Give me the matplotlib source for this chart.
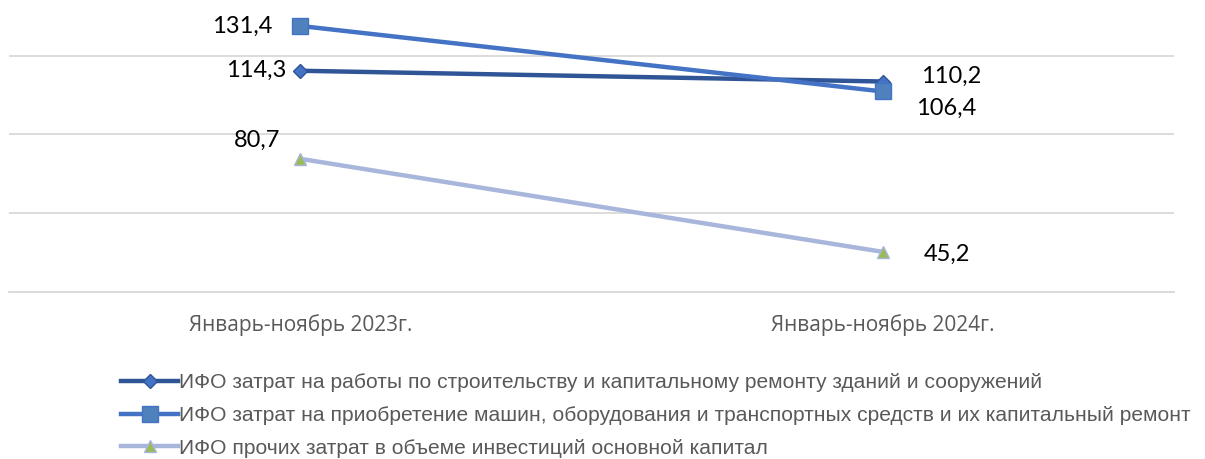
import matplotlib.pyplot as plt
import numpy as np

periods = ['Январь-ноябрь 2023г.', 'Январь-ноябрь 2024г.']
series_names = [
    'ИФО затрат на работы по строительству и капитальному ремонту зданий и сооружений',
    'ИФО затрат на приобретение машин, оборудования и транспортных средств и их капитальный ремонт',
    'ИФО прочих затрат в объеме инвестиций основной капитал',
]
buildings = [114.3, 110.2]
machines = [131.4, 106.4]
other = [80.7, 45.2]

x = np.arange(len(periods))

fig = plt.figure(figsize=(12.05, 4.59), dpi=100)
ax = fig.add_axes([9 / 1205, 1 - 291.7 / 459, (1174 - 9) / 1205, 291.7 / 459])

ax.plot(x, buildings, color='#2f5597', lw=3.2, marker='D', ms=7,
        mfc='#4472c4', mec='#2f5597', label=series_names[0], zorder=3)
ax.plot(x, machines, color='#4472c4', lw=3.2, marker='s', ms=11,
        mfc='#4f81bd', mec='#4472c4', label=series_names[1], zorder=3)
ax.plot(x, other, color='#a9b6dc', lw=3.2, marker='^', ms=9,
        mfc='#9bbb59', mec='#a9b6dc', label=series_names[2], zorder=3)

ax.set_xlim(-0.5, 1.5)
ax.set_ylim(30, 141.3)
ax.set_yticks([30, 60, 90, 120])
ax.yaxis.grid(True, color='#d9d9d9', lw=1.3)
ax.set_axisbelow(True)
ax.tick_params(axis='y', left=False, labelleft=False)
ax.tick_params(axis='x', bottom=False, colors='#595959', pad=13)
ax.set_xticks(x)
ax.set_xticklabels(periods, family='Open Sans', fontsize=15)
for s in ['top', 'right', 'left']:
    ax.spines[s].set_visible(False)
ax.spines['bottom'].set_color('#d9d9d9')
ax.spines['bottom'].set_linewidth(1.3)

def fmt(v):
    return f'{v:.1f}'.replace('.', ',')

# offsets in points from the marker
lbl = dict(fontsize=17, color='black', family='Lato',
           textcoords='offset points', ha='center', va='center')
ax.annotate(fmt(machines[0]), (x[0], machines[0]), xytext=(-42, 0), **lbl)
ax.annotate(fmt(buildings[0]), (x[0], buildings[0]), xytext=(-32, 0), **lbl)
ax.annotate(fmt(other[0]), (x[0], other[0]), xytext=(-31, 13), **lbl)
ax.annotate(fmt(buildings[1]), (x[1], buildings[1]), xytext=(49, 4), **lbl)
ax.annotate(fmt(machines[1]), (x[1], machines[1]), xytext=(46, -12.5), **lbl)
ax.annotate(fmt(other[1]), (x[1], other[1]), xytext=(46, -2), **lbl)

leg = fig.legend(loc='upper left', bbox_to_anchor=(113 / 1205, 1 - 365 / 459),
                 frameon=False, numpoints=1, handlelength=2.7,
                 handletextpad=0.05, labelspacing=0.65, borderaxespad=0,
                 prop={'family': 'Liberation Sans', 'size': 15.1})
for t in leg.get_texts():
    t.set_color('#595959')

fig.savefig('out.png', dpi=100)
